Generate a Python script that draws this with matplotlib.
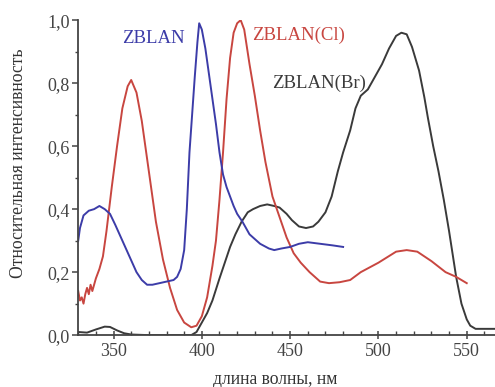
import matplotlib
matplotlib.use('Agg')
import numpy as np
from matplotlib import pyplot as plt
from matplotlib.ticker import MultipleLocator, FuncFormatter

# emission spectra, wavelength in nm / relative intensity
zblan_x = [330, 331, 333, 336, 339, 342, 345, 348, 351, 355, 359, 363, 366, 369,
           372, 376, 380, 384, 386, 388, 390, 391.5, 393, 394, 396, 397.5, 398.5,
           400, 402, 404, 406, 408, 410, 412, 414, 416, 418, 420, 423, 427, 433,
           438, 441, 445, 450, 455, 460, 467, 474, 480]
zblan_y = [0.30, 0.34, 0.38, 0.395, 0.40, 0.41, 0.40, 0.385, 0.35, 0.30, 0.25, 0.20,
           0.175, 0.16, 0.16, 0.165, 0.17, 0.175, 0.185, 0.21, 0.27, 0.40, 0.58,
           0.66, 0.82, 0.93, 0.99, 0.97, 0.91, 0.83, 0.75, 0.67, 0.58, 0.51, 0.47,
           0.44, 0.41, 0.385, 0.36, 0.32, 0.29, 0.275, 0.27, 0.275, 0.28, 0.29,
           0.295, 0.29, 0.285, 0.28]

cl_x = [330, 331, 332, 333, 334, 335, 336, 337, 338, 340, 342, 344, 346, 349, 352,
        355, 358, 360, 363, 366, 370, 374, 378, 382, 386, 390, 394, 397, 400, 403,
        406, 408, 410, 412, 414, 416, 418, 420, 422, 424, 427, 430, 433, 436, 440,
        444, 448, 452, 456, 461, 467, 472, 478, 484, 490, 500, 510, 516, 522, 530,
        538, 544, 550]
cl_y = [0.14, 0.11, 0.12, 0.10, 0.13, 0.15, 0.13, 0.16, 0.14, 0.18, 0.21, 0.25,
        0.33, 0.47, 0.60, 0.72, 0.79, 0.81, 0.77, 0.68, 0.52, 0.36, 0.24, 0.15,
        0.08, 0.04, 0.025, 0.03, 0.06, 0.12, 0.22, 0.30, 0.43, 0.58, 0.75, 0.88,
        0.96, 0.99, 1.0, 0.97, 0.86, 0.76, 0.65, 0.55, 0.44, 0.375, 0.31, 0.26,
        0.23, 0.20, 0.17, 0.165, 0.168, 0.175, 0.20, 0.23, 0.265, 0.27, 0.265,
        0.235, 0.20, 0.185, 0.165]

br_x = [330, 335, 340, 345, 348, 352, 356, 360, 370, 380, 390, 394, 397, 400, 403,
        406, 410, 413, 416, 419, 422.5, 426, 429, 433, 437, 441, 444, 448, 451, 455,
        459, 463, 466, 470, 473.5, 477, 480, 484, 487, 490, 494, 498, 502, 506, 510,
        513, 516, 519, 523, 526, 528, 531, 534, 537, 540, 544, 547, 550, 552, 555,
        560, 566]
br_y = [0.01, 0.008, 0.018, 0.027, 0.026, 0.015, 0.006, 0.002, 0.0, 0.0, 0.0, 0.0,
        0.01, 0.04, 0.07, 0.11, 0.18, 0.23, 0.28, 0.32, 0.36, 0.39, 0.40, 0.41,
        0.415, 0.41, 0.405, 0.385, 0.365, 0.345, 0.34, 0.345, 0.36, 0.39, 0.44,
        0.52, 0.58, 0.65, 0.72, 0.76, 0.78, 0.82, 0.86, 0.91, 0.95, 0.96, 0.955,
        0.915, 0.84, 0.755, 0.69, 0.60, 0.52, 0.43, 0.33, 0.185, 0.10, 0.05, 0.03,
        0.02, 0.02, 0.02]

blue = '#3c3ca8'
red = '#c84640'
black = '#3a3a3a'

plt.rcParams['font.family'] = ['Liberation Serif', 'DejaVu Serif']

fig = plt.figure(figsize=(4.95, 3.87), dpi=100)
ax = fig.add_axes([0.158, 0.134, 0.842, 0.814])

ax.plot(br_x, br_y, color=black, lw=1.4)
ax.plot(cl_x, cl_y, color=red, lw=1.4)
ax.plot(zblan_x, zblan_y, color=blue, lw=1.4)

ax.set_xlim(330, 566)
ax.set_ylim(0, 1.0)
ax.xaxis.set_major_locator(MultipleLocator(50))
ax.xaxis.set_minor_locator(MultipleLocator(10))
ax.yaxis.set_major_locator(MultipleLocator(0.2))
ax.yaxis.set_minor_locator(MultipleLocator(0.1))
ax.yaxis.set_major_formatter(FuncFormatter(lambda v, p: f'{v:.1f}'.replace('.', ',')))

for s in ('top', 'right'):
    ax.spines[s].set_visible(False)
for s in ('left', 'bottom'):
    ax.spines[s].set_linewidth(1.3)
    ax.spines[s].set_color('#444444')

ax.tick_params(axis='x', which='major', direction='inout', length=6, width=1.1,
               labelsize=13, colors='#444444', pad=3)
ax.tick_params(axis='x', which='minor', direction='in', length=3, width=1.0,
               colors='#444444')
ax.tick_params(axis='y', which='major', direction='out', length=4, width=1.1,
               labelsize=13, colors='#444444', pad=2)
ax.tick_params(axis='y', which='minor', direction='out', length=2, width=1.0,
               colors='#444444')

ax.text(354.9, 0.943, 'ZBLAN', color=blue, fontsize=13.5, va='center')
ax.text(428.5, 0.952, 'ZBLAN(Cl)', color=red, fontsize=13.5, va='center')
ax.text(439.8, 0.80, 'ZBLAN(Br)', color=black, fontsize=13.5, va='center')

fig.text(19 / 495, 1 - 163 / 387, 'Относительная интенсивность', fontsize=12.7,
         color='#333333', rotation=90, ha='center', va='center')
fig.text(275.5 / 495, 1 - 380 / 387, 'длина волны, нм', fontsize=12.7,
         color='#333333', ha='center', va='center')

fig.savefig('out.png', dpi=100)
